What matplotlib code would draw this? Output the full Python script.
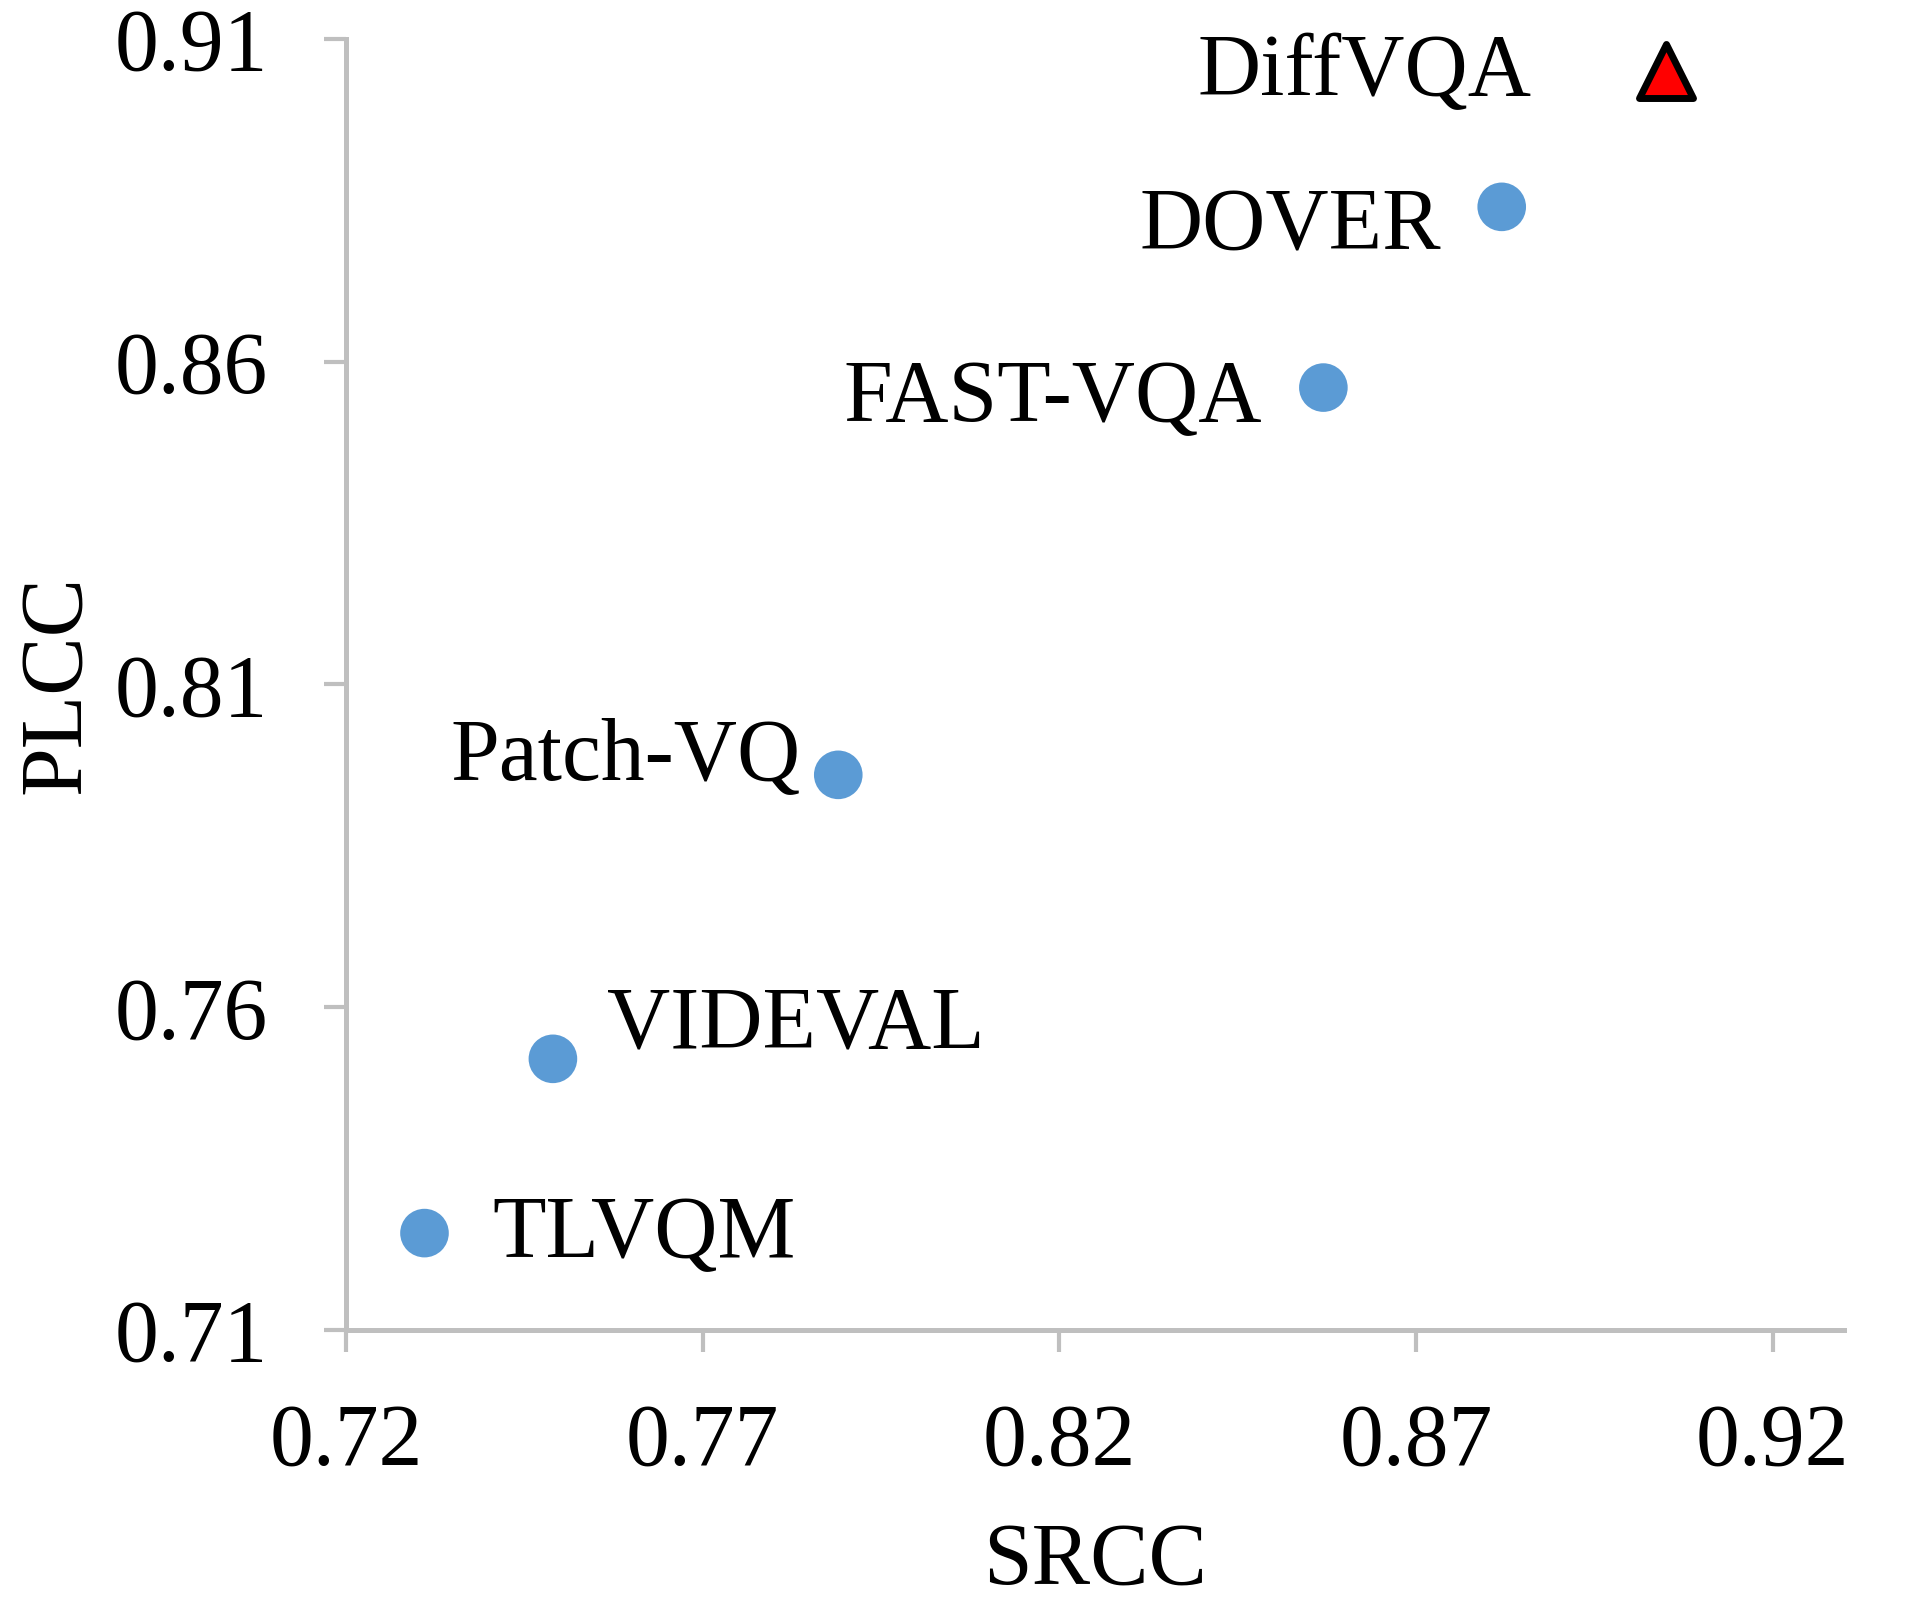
import matplotlib
matplotlib.use("Agg")
import matplotlib.pyplot as plt
from matplotlib.markers import MarkerStyle

# methods and (SRCC, PLCC)
methods = ["TLVQM", "VIDEVAL", "Patch-VQ", "FAST-VQA", "DOVER"]
srcc = [0.731, 0.749, 0.789, 0.857, 0.882]
plcc = [0.725, 0.752, 0.796, 0.856, 0.884]

ours_name = "DiffVQA"
ours_srcc = 0.905
ours_plcc = 0.905

x_ticks = [0.72, 0.77, 0.82, 0.87, 0.92]
y_ticks = [0.71, 0.76, 0.81, 0.86, 0.91]

# label offsets (pixels) and alignment per method
label_pos = {
    "TLVQM": (68, -24, "left"),
    "VIDEVAL": (54, 11, "left"),
    "Patch-VQ": (-38, -4, "right"),
    "FAST-VQA": (-61, -33, "right"),
    "DOVER": (-61, -43, "right"),
    "DiffVQA": (-134, -24, "right"),
}

plt.rcParams['font.family'] = ['Liberation Serif', 'DejaVu Serif']
fs = 63
grey = '#BFBFBF'

fig = plt.figure(figsize=(19.17, 16.13), dpi=100)
ax = fig.add_axes([0.1805, 0.1755, 0.962 - 0.1805, 0.9758 - 0.1755])

ax.scatter(srcc, plcc, s=35**2, color='#5B9BD5', edgecolors='none', zorder=3)
tri = MarkerStyle('^', joinstyle='round')
ax.plot([ours_srcc], [ours_plcc], linestyle='none', marker=tri, markersize=39,
        markerfacecolor='#FF0000', markeredgecolor='black', markeredgewidth=5, zorder=4)

for name, x, y in zip(methods + [ours_name], srcc + [ours_srcc], plcc + [ours_plcc]):
    dx, dy, ha = label_pos[name]
    ax.annotate(name, (x, y), xytext=(dx, dy), textcoords='offset pixels',
                ha=ha, va='baseline', fontsize=fs)

ax.set_xlim(0.72, 0.93)
ax.set_ylim(0.71, 0.91)
ax.set_xticks(x_ticks)
ax.set_yticks(y_ticks)
ax.set_xticklabels([f"{v:.2f}" for v in x_ticks])
ax.set_yticklabels([f"{v:.2f}" for v in y_ticks])

for side in ['top', 'right']:
    ax.spines[side].set_visible(False)
for side in ['left', 'bottom']:
    ax.spines[side].set_color(grey)
    ax.spines[side].set_linewidth(3.6)
ax.tick_params(axis='both', direction='out', length=16, width=3.0, color=grey,
               labelsize=fs)
ax.tick_params(axis='x', pad=36)
ax.tick_params(axis='y', pad=40)

ax.set_xlabel('SRCC', fontsize=fs, labelpad=28)
ax.set_ylabel('PLCC', fontsize=fs, labelpad=12)

fig.savefig('out.png', dpi=100)
